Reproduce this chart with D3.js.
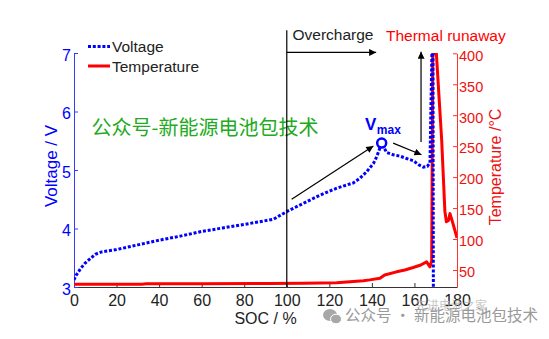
<!DOCTYPE html>
<html><head><meta charset="utf-8">
<script src="https://cdn.jsdelivr.net/npm/d3@7"></script>
<style>body{margin:0;background:#fff}svg{display:block}</style>
</head><body><div id="chart"></div>
<script>
// ---- data ----
const socTicks = [0,20,40,60,80,100,120,140,160,180];
const voltTicks = [3,4,5,6,7];
const tempTicks = [50,100,150,200,250,300,350,400];

const voltSOC = [0,1,3,5,7.5,10,13,20,30,40,50,60,70,80,88,93.8,100,107.8,115.6,123.5,131.3,134.4,137.5,140.7,142.3,144.6,146.9,150,153,156,159.4,162,164.1,166,167.3,168.3,168.7,168.9];
const voltage = [3.12,3.2,3.31,3.4,3.48,3.56,3.6,3.64,3.72,3.8,3.87,3.95,4.01,4.07,4.12,4.16,4.29,4.43,4.57,4.69,4.78,4.86,4.97,5.11,5.23,5.46,5.3,5.26,5.24,5.2,5.16,5.09,5.05,5.06,5.12,7.2,7.2,2.8];

const tempSOC = [0,32,34,60,92,107.8,123.5,136,139,143.8,146,151.6,155.5,159.4,163,165.7,167.3,168.1,168.6,170.3,172.8,174.3,175,176,176.7,177.6,180];
const temperature = [27,27,27.6,27.8,28,28.5,29.5,32.7,34,36.6,42,47,50,54,58,63,55,65,400,400,260,145,128,130,141,131,102];

const vmax = {soc:144.6, v:5.46};

// ---- layout ----
const W = 549, H = 339;
const x = d3.scaleLinear([0,180],[74,457]);
const yV = d3.scaleLinear([3,7],[287,53]);
const yT = d3.scaleLinear([22.5,400],[287,53.3]);

const BLUE = "#0000ff", RED = "#ff0000";
const FONT = "'Liberation Sans', Arial, sans-serif";
const CJK = "'Noto Sans CJK SC', sans-serif";

const svg = d3.select("#chart").append("svg").attr("width",W).attr("height",H)
  .style("font-family",FONT);

const defs = svg.append("defs");
defs.append("clipPath").attr("id","plot").append("rect")
  .attr("x",74).attr("y",53).attr("width",383).attr("height",234);
defs.append("marker").attr("id","arr").attr("viewBox","0 0 10 10")
  .attr("refX",10).attr("refY",5).attr("markerWidth",8).attr("markerHeight",7)
  .attr("markerUnits","userSpaceOnUse").attr("orient","auto")
  .append("path").attr("d","M0,0L10,5L0,10Z").attr("fill","#000");

// ---- watermark text ----
svg.append("text").attr("x",91.5).attr("y",134.5).attr("font-family",CJK)
  .attr("font-size",20).attr("fill","#22aa22").text("公众号-新能源电池包技术");

// ---- axes ----
const fmt = d => String(d);
const gx = svg.append("g").attr("transform","translate(0,287)")
  .call(d3.axisBottom(x).tickValues(socTicks).tickFormat(fmt).tickSize(-4).tickSizeOuter(0).tickPadding(8));
gx.selectAll("text").attr("font-size",16).attr("fill","#222").style("font-family",FONT);
gx.selectAll("line,path").attr("stroke","#333");

const gl = svg.append("g").attr("transform","translate(74,0)")
  .call(d3.axisLeft(yV).tickValues(voltTicks).tickFormat(fmt).tickSize(-4).tickSizeOuter(0).tickPadding(3));
gl.selectAll("text").attr("font-size",16).attr("fill",BLUE).attr("dy","0.45em").style("font-family",FONT);
gl.selectAll("line,path").attr("stroke","#3a3aff");

const gr = svg.append("g").attr("transform","translate(457,0)")
  .call(d3.axisRight(yT).tickValues(tempTicks).tickFormat(fmt).tickSize(-4).tickSizeOuter(0).tickPadding(2));
gr.selectAll("text").attr("font-size",14.5).attr("fill","#ee1111").attr("dy","0.47em").style("font-family",FONT);
gr.selectAll("line,path").attr("stroke","#ff3030");

// axis titles
svg.append("text").attr("x",265.5).attr("y",323.5).attr("text-anchor","middle")
  .attr("font-size",16).attr("fill","#222").text("SOC / %");
svg.append("text").attr("transform","translate(56.5,166) rotate(-90)").attr("text-anchor","middle")
  .attr("font-size",17).attr("fill",BLUE).text("Voltage / V");
svg.append("text").attr("transform","translate(500.5,167) rotate(-90)").attr("text-anchor","middle")
  .attr("font-size",16).attr("fill","#ee1111").text("Temperature /°C");

// ---- data lines ----
const plot = svg.append("g").attr("clip-path","url(#plot)");
const tLine = d3.line().x((d,i)=>x(tempSOC[i])).y(d=>yT(d));
const vLine = d3.line().x((d,i)=>x(voltSOC[i])).y(d=>yV(d));

plot.append("path").attr("d",tLine(temperature)).attr("fill","none")
  .attr("stroke",RED).attr("stroke-width",3).attr("stroke-linejoin","round");
plot.append("path").attr("d",vLine(voltage)).attr("fill","none")
  .attr("stroke",BLUE).attr("stroke-width",3).attr("stroke-dasharray","3,1.8");

// ---- annotations ----
svg.append("line").attr("x1",x(100)).attr("x2",x(100)).attr("y1",yV(7.39)).attr("y2",yV(3))
  .attr("stroke","#000").attr("stroke-width",1.2);
const arrows = [
  [100,7.01,142,7.01],
  [163.1,5.48,163.1,7.02],
  [102.3,4.5,140.7,5.41],
  [150,5.46,163.3,5.26]
];
svg.selectAll(".arr").data(arrows).join("line")
  .attr("x1",d=>x(d[0])).attr("y1",d=>yV(d[1])).attr("x2",d=>x(d[2])).attr("y2",d=>yV(d[3]))
  .attr("stroke","#000").attr("stroke-width",1.2).attr("marker-end","url(#arr)");

svg.append("text").attr("x",292.5).attr("y",40).attr("font-size",15.5).attr("fill","#222").text("Overcharge");
svg.append("text").attr("x",386).attr("y",40.5).attr("font-size",15.5).attr("fill",RED).text("Thermal runaway");

svg.append("circle").attr("cx",x(vmax.soc)).attr("cy",yV(vmax.v)).attr("r",4.5)
  .attr("fill","#fff").attr("stroke",BLUE).attr("stroke-width",2.5);
const vt = svg.append("text").attr("x",365).attr("y",130).attr("fill",BLUE).attr("font-weight","bold");
vt.append("tspan").attr("font-size",17).text("V");
vt.append("tspan").attr("font-size",12).attr("dy",4).attr("dx",0.5).text("max");

// ---- legend ----
const lg = svg.append("g");
lg.append("line").attr("x1",88).attr("x2",110).attr("y1",46.5).attr("y2",46.5)
  .attr("stroke",BLUE).attr("stroke-width",3).attr("stroke-dasharray","3,1.8");
lg.append("text").attr("x",112).attr("y",52).attr("font-size",15.5).attr("fill","#222").text("Voltage");
lg.append("line").attr("x1",88).attr("x2",110).attr("y1",66).attr("y2",66)
  .attr("stroke",RED).attr("stroke-width",3);
lg.append("text").attr("x",112).attr("y",71.5).attr("font-size",15.5).attr("fill","#222").text("Temperature");

// ---- bottom watermark ----
svg.append("text").attr("x",415).attr("y",309.5).attr("font-family",CJK).attr("font-size",12)
  .attr("fill","#bbb").attr("opacity",0.8).text("先进电池之家");
const ic = svg.append("g").attr("fill","#a8a8a8");
ic.append("ellipse").attr("cx",330).attr("cy",315).attr("rx",7).attr("ry",6);
ic.append("ellipse").attr("cx",336).attr("cy",319).attr("rx",5.5).attr("ry",4.8).attr("stroke","#fff").attr("stroke-width",1);
svg.append("text").attr("x",345).attr("y",321).attr("font-family",CJK).attr("font-size",15.5)
  .attr("fill","#9a9a9a").text("公众号 · 新能源电池包技术");
</script></body></html>
